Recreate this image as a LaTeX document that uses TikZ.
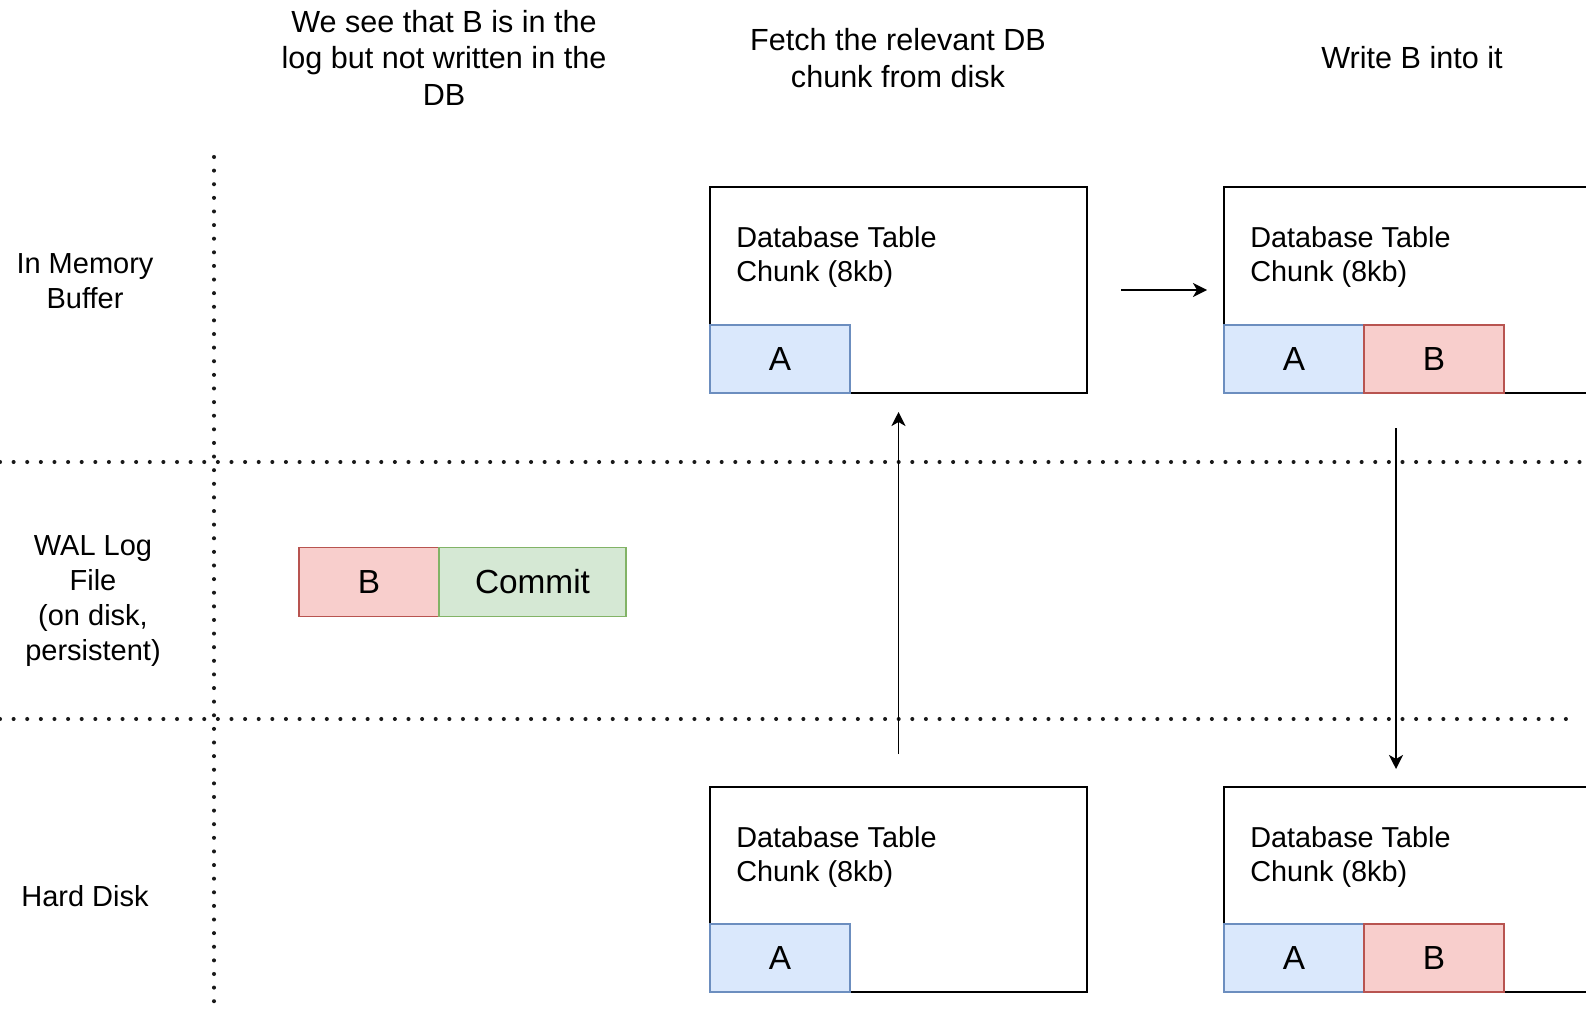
\documentclass[tikz,border=0pt]{standalone}
\usepackage{fontspec}
\setmainfont{Liberation Sans}
\usetikzlibrary{arrows.meta,calc}

\definecolor{blueF}{HTML}{DAE8FC}
\definecolor{blueS}{HTML}{6C8EBF}
\definecolor{redF}{HTML}{F8CECC}
\definecolor{redS}{HTML}{B85450}
\definecolor{greenF}{HTML}{D5E8D4}
\definecolor{greenS}{HTML}{82B366}
\def\upx{0.02cm}

\begin{document}
\begin{tikzpicture}[x=0.02cm, y=-0.02cm,
  lane/.style={line width=2.3pt, dash pattern=on 0pt off 7.75pt, line cap=round, black!90},
  chunk/.style={draw=black, line width=1.1pt, fill=white, minimum width=377*\upx,
    minimum height=206*\upx, inner sep=0pt, outer sep=0pt},
  chunktext/.style={anchor=west, align=left, inner sep=0pt, font=\fontsize{16.4}{19.2}\selectfont},
  cell/.style={line width=1.1pt, minimum width=140*\upx, minimum height=68*\upx,
    inner sep=0pt, outer sep=0pt, font=\fontsize{19}{23}\selectfont},
  cellA/.style={cell, draw=blueS, fill=blueF},
  cellB/.style={cell, draw=redS, fill=redF},
  cellC/.style={cell, draw=greenS, fill=greenF, minimum width=187*\upx},
  head/.style={align=center, inner sep=0pt, font=\fontsize{17.4}{20.8}\selectfont},
  lanelabel/.style={align=center, inner sep=0pt, font=\fontsize{16.5}{19.8}\selectfont},
  arr/.style={line width=1.1pt, -{Stealth[length=8pt, width=8pt, inset=2.3pt]}}
]
\useasboundingbox (0,0) rectangle (1586,1010);
\clip (0,0) rectangle (1586,1010);
\fill[white] (0,0) rectangle (1586,1010);

% swimlane separators
\draw[lane] (214,157) -- (214,1010);
\draw[lane] (0,462) -- (1586,462);
\draw[lane] (0,719) -- (1576,719);

% lane names
\node[lanelabel] (lmem) at (85,281) {In Memory\\Buffer};
\node[lanelabel] (lwal) at (93,601) {WAL Log\\File\\(on disk,\\persistent)};
\node[lanelabel] (ldisk) at (85,896) {Hard Disk};

% step headings
\node[head] (h1) at (444,57.5) {We see that B is in the\\log but not written in the\\DB};
\node[head] (h2) at (898,58) {Fetch the relevant DB\\chunk from disk};
\node[head] (h3) at (1412,58) {Write B into it};

% WAL record
\node[cellB, minimum height=69*\upx, anchor=west] (walB) at (299,582) {B};
\node[cellC, minimum height=69*\upx, anchor=west] (walC) at (walB.east) {Commit};

% buffer chunks
\node[chunk] (mem1) at (898.5,290) {};
\node[chunktext] (mem1t) at ($(mem1.north west)+(26,70)$) {Database Table\\Chunk (8kb)};
\node[cellA, anchor=south west] (mem1a) at (mem1.south west) {A};

\node[chunk] (mem2) at (1412.5,290) {};
\node[chunktext] (mem2t) at ($(mem2.north west)+(26,70)$) {Database Table\\Chunk (8kb)};
\node[cellA, anchor=south west] (mem2a) at (mem2.south west) {A};
\node[cellB, anchor=west] (mem2b) at (mem2a.east) {B};

% disk chunks
\node[chunk, minimum height=205*\upx] (disk1) at (898.5,889.5) {};
\node[chunktext] (disk1t) at ($(disk1.north west)+(26,70)$) {Database Table\\Chunk (8kb)};
\node[cellA, anchor=south west] (disk1a) at (disk1.south west) {A};

\node[chunk, minimum height=205*\upx] (disk2) at (1412.5,889.5) {};
\node[chunktext] (disk2t) at ($(disk2.north west)+(26,70)$) {Database Table\\Chunk (8kb)};
\node[cellA, anchor=south west] (disk2a) at (disk2.south west) {A};
\node[cellB, anchor=west] (disk2b) at (disk2a.east) {B};

% data flow
\draw[arr] ($(disk1.north)+(0,-33)$) -- ($(mem1.south)+(0,19)$);
\draw[arr] ($(mem1.east)+(34,0)$) -- ($(mem2.west)+(-17,0)$);
\draw[arr] ($(mem2.south west)+(172,35)$) -- ($(disk2.north west)+(172,-18)$);
\end{tikzpicture}
\end{document}
